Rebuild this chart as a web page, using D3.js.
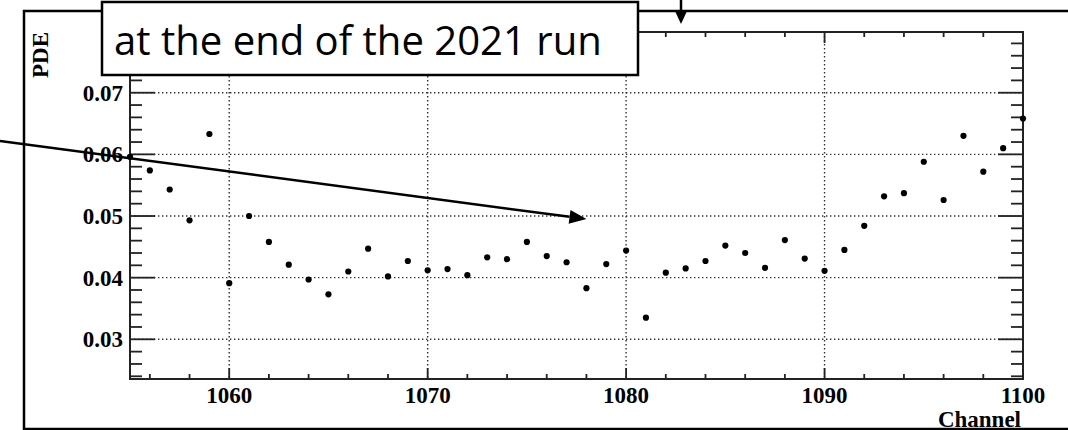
<!DOCTYPE html>
<html>
<head>
<meta charset="utf-8">
<script src="https://cdn.jsdelivr.net/npm/d3@7"></script>
<style>
  body { margin: 0; background: #fff; }
  svg { display: block; }
</style>
</head>
<body>
<svg id="chart" width="1068" height="430"></svg>
<script>
// channels and PDE values
const channels = d3.range(1055, 1101);
const pde = [
  0.0596, 0.0574, 0.0543, 0.0493, 0.0633, 0.0391, 0.0500, 0.0458, 0.0421, 0.0397,
  0.0373, 0.0410, 0.0447, 0.0402, 0.0427, 0.0412, 0.0414, 0.0404, 0.0433, 0.0430,
  0.0458, 0.0435, 0.0425, 0.0383, 0.0422, 0.0444, 0.0335, 0.0408, 0.0415, 0.0427,
  0.0452, 0.0440, 0.0416, 0.0461, 0.0431, 0.0411, 0.0445, 0.0484, 0.0532, 0.0537,
  0.0588, 0.0526, 0.0630, 0.0572, 0.0610, 0.0658
];
const xMajor = [1060, 1070, 1080, 1090, 1100];
const yMajor = [0.03, 0.04, 0.05, 0.06, 0.07];
const xLabels = ["1060", "1070", "1080", "1090", "1100"];
const yLabels = ["0.03", "0.04", "0.05", "0.06", "0.07"];
const title = "at the end of the 2021 run";

const svg = d3.select("#chart");
const pL = 130, pR = 1023, pT = 32, pB = 379;
const font = "'Liberation Serif', 'Times New Roman', serif";

const x = d3.scaleLinear().domain([1055, 1100]).range([pL, pR]);
const y = d3.scaleLinear().domain([0.02356, 0.07985]).range([pB, pT]);

// canvas frame
svg.append("rect")
  .attr("x", 24).attr("y", 11).attr("width", 1100).attr("height", 418)
  .attr("fill", "none").attr("stroke", "#000").attr("stroke-width", 2.5);

// grid
const grid = svg.append("g").attr("stroke", "#333").attr("stroke-width", 1.4)
  .attr("stroke-dasharray", "1.4,2.6");
grid.selectAll(".gx").data(xMajor.filter(d => d < 1100)).enter().append("line")
  .attr("x1", d => x(d)).attr("x2", d => x(d)).attr("y1", pT).attr("y2", pB);
grid.selectAll(".gy").data(yMajor).enter().append("line")
  .attr("y1", d => y(d)).attr("y2", d => y(d)).attr("x1", pL).attr("x2", pR);

// minor ticks
const xMinor = d3.range(1056, 1100, 2).filter(d => d % 10 != 0);
const yMinor = d3.range(0.024, 0.0799, 0.002).filter(d => Math.abs(d * 100 - Math.round(d * 100)) > 1e-6);

const ticks = svg.append("g").attr("stroke", "#222").attr("stroke-width", 1.8);
xMinor.forEach(d => {
  ticks.append("line").attr("x1", x(d)).attr("x2", x(d)).attr("y1", pB).attr("y2", pB - 5);
  ticks.append("line").attr("x1", x(d)).attr("x2", x(d)).attr("y1", pT).attr("y2", pT + 5);
});
xMajor.forEach(d => {
  ticks.append("line").attr("x1", x(d)).attr("x2", x(d)).attr("y1", pB).attr("y2", pB - 11);
  ticks.append("line").attr("x1", x(d)).attr("x2", x(d)).attr("y1", pT).attr("y2", pT + 11);
});
yMinor.forEach(d => {
  ticks.append("line").attr("y1", y(d)).attr("y2", y(d)).attr("x1", pL).attr("x2", pL + 12);
  ticks.append("line").attr("y1", y(d)).attr("y2", y(d)).attr("x1", pR).attr("x2", pR - 12);
});
yMajor.forEach(d => {
  ticks.append("line").attr("y1", y(d)).attr("y2", y(d)).attr("x1", pL).attr("x2", pL + 25);
  ticks.append("line").attr("y1", y(d)).attr("y2", y(d)).attr("x1", pR).attr("x2", pR - 25);
});

// plot frame
svg.append("rect")
  .attr("x", pL).attr("y", pT).attr("width", pR - pL).attr("height", pB - pT)
  .attr("fill", "none").attr("stroke", "#222").attr("stroke-width", 2);

// tick labels
svg.append("g").selectAll("text").data(xMajor).enter().append("text")
  .attr("x", d => x(d)).attr("y", 403)
  .attr("text-anchor", "middle")
  .style("font-family", font).style("font-weight", "bold").style("font-size", "23px")
  .text((d, i) => xLabels[i]);
svg.append("g").selectAll("text").data(yMajor).enter().append("text")
  .attr("x", 123).attr("y", d => y(d) + 8)
  .attr("text-anchor", "end")
  .style("font-family", font).style("font-weight", "bold").style("font-size", "23px")
  .text((d, i) => yLabels[i]);

// axis titles
svg.append("text")
  .attr("transform", "translate(48,32) rotate(-90)")
  .attr("text-anchor", "end")
  .style("font-family", font).style("font-weight", "bold").style("font-size", "23px")
  .text("PDE");
svg.append("text")
  .attr("x", 1021).attr("y", 427)
  .attr("text-anchor", "end")
  .style("font-family", font).style("font-weight", "bold").style("font-size", "23px")
  .text("Channel");

// points
svg.append("g").selectAll("circle").data(channels).enter().append("circle")
  .attr("cx", d => x(d)).attr("cy", (d, i) => y(pde[i]))
  .attr("r", 3.1).attr("fill", "#000");

// arrows
function arrow(x1, y1, x2, y2, len, half) {
  const a = Math.atan2(y2 - y1, x2 - x1);
  const bx = x2 - len * Math.cos(a), by = y2 - len * Math.sin(a);
  svg.append("line").attr("x1", x1).attr("y1", y1).attr("x2", bx).attr("y2", by)
    .attr("stroke", "#000").attr("stroke-width", 2.5);
  const p = [[x2, y2],
    [bx + half * Math.sin(a), by - half * Math.cos(a)],
    [bx - half * Math.sin(a), by + half * Math.cos(a)]];
  svg.append("path").attr("d", d3.line()(p) + "Z").attr("fill", "#000");
}
arrow(0, 141, x(1078.0), y(0.0495), 17, 7);
arrow(681, 0, 681, 24, 14, 6.5);

// title box
svg.append("rect")
  .attr("x", 102).attr("y", 2).attr("width", 536).attr("height", 73)
  .attr("fill", "#fff").attr("stroke", "#000").attr("stroke-width", 2.5);
const t = svg.append("text")
  .attr("x", 114).attr("y", 55)
  .style("font-family", "'Open Sans', 'Noto Sans', sans-serif").style("font-size", "34px")
  .attr("fill", "#000")
  .text(title);
const w = t.node().getComputedTextLength();
t.style("font-size", (34 * 488 / w).toFixed(2) + "px");
</script>
</body>
</html>
